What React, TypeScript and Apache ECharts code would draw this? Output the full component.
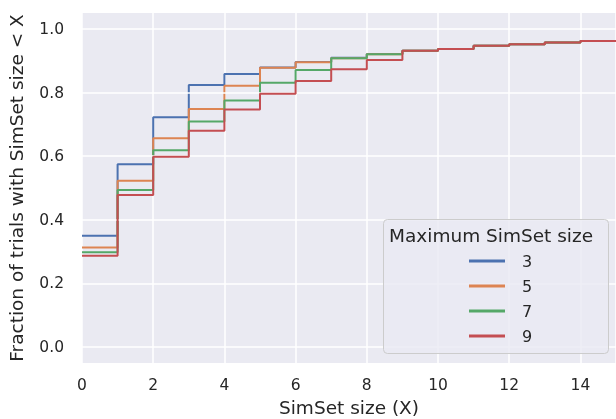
import React, { useEffect, useRef } from "react";
import * as echarts from "echarts";

const xSteps = [0, 1, 2, 3, 4, 5, 6, 7, 8, 9, 10, 11, 12, 13, 14, 15];
const seriesNames = ["3", "5", "7", "9"];
const colors = ["#4c72b0", "#dd8452", "#55a868", "#c44e52"];
const max3 = [0.350, 0.575, 0.722, 0.824, 0.858, 0.879, 0.896, 0.909, 0.921, 0.931, 0.937, 0.947, 0.952, 0.957, 0.962];
const max5 = [0.313, 0.523, 0.656, 0.748, 0.821, 0.878, 0.895, 0.908, 0.920, 0.931, 0.937, 0.947, 0.952, 0.957, 0.962];
const max7 = [0.298, 0.494, 0.619, 0.709, 0.775, 0.831, 0.871, 0.908, 0.920, 0.931, 0.937, 0.947, 0.952, 0.957, 0.962];
const max9 = [0.287, 0.478, 0.598, 0.680, 0.747, 0.796, 0.836, 0.873, 0.902, 0.931, 0.937, 0.947, 0.952, 0.957, 0.962];
const xTicks = [0, 2, 4, 6, 8, 10, 12, 14];
const yTicks = [0, 0.2, 0.4, 0.6, 0.8, 1.0];
const legendTitle = "Maximum SimSet size";

const FONT = "DejaVu Sans";
const TXT = "#262626";

function toPoints(vals: number[]) {
  return xSteps.map((x, i) => [x, vals[Math.min(i, vals.length - 1)]]);
}

export default function App() {
  const ref = useRef<HTMLDivElement>(null);
  useEffect(() => {
    if (!ref.current) return;
    const chart = echarts.init(ref.current, undefined, { renderer: "svg" });
    const all = [max3, max5, max7, max9];
    const option: any = {
      animation: false,
      textStyle: { fontFamily: FONT, color: TXT },
      grid: {
        left: 82,
        right: 0,
        top: 13,
        bottom: 56,
        show: true,
        backgroundColor: "#eaeaf2",
        borderWidth: 0,
        containLabel: false,
        outerBoundsMode: "none",
      },
      xAxis: {
        type: "value",
        min: 0,
        max: 15,
        interval: 2,
        name: "SimSet size (X)",
        nameLocation: "middle",
        nameGap: 35,
        nameTextStyle: { fontFamily: FONT, fontSize: 18.5, color: TXT },
        axisLine: { show: false },
        axisTick: { show: false },
        axisLabel: {
          fontFamily: FONT,
          fontSize: 15.5,
          color: TXT,
          margin: 14,
          customValues: xTicks,
        },
        splitLine: { show: true, lineStyle: { color: "#ffffff", width: 1.5 } },
      },
      yAxis: {
        type: "value",
        min: -0.05,
        max: 1.05,
        name: "Fraction of trials with SimSet size < X",
        nameLocation: "middle",
        nameGap: 56,
        nameTextStyle: { fontFamily: FONT, fontSize: 18.5, color: TXT },
        axisLine: { show: false },
        axisTick: { show: false },
        axisLabel: {
          fontFamily: FONT,
          fontSize: 15.5,
          color: TXT,
          margin: 18,
          customValues: yTicks,
          formatter: (v: number) => v.toFixed(1),
        },
        splitLine: { show: false },
      },
      legend: {
        orient: "vertical",
        left: 464,
        top: 248,
        itemWidth: 36,
        itemHeight: 3,
        itemGap: 9,
        icon: "rect",
        z: 20,
        data: seriesNames,
        textStyle: { fontFamily: FONT, fontSize: 16, color: TXT, padding: [0, 0, 0, 12], lineHeight: 16 },
      },
      graphic: [
        {
          type: "rect",
          left: 383,
          top: 219,
          shape: { width: 225, height: 134, r: 4 },
          style: { fill: "rgba(234,234,242,0.8)", stroke: "#cccccc", lineWidth: 1 },
          z: 10,
        },
        {
          type: "text",
          left: 389,
          top: 226,
          style: { text: legendTitle, font: `18.5px ${FONT}`, fill: TXT },
          z: 11,
        },
      ],
      series: [
        {
          type: "line",
          name: "__grid",
          data: [],
          silent: true,
          z: 1,
          markLine: {
            silent: true,
            symbol: "none",
            label: { show: false },
            lineStyle: { color: "#ffffff", width: 1.5, type: "solid" },
            data: yTicks.map((v) => ({ yAxis: v })),
          },
        },
        ...seriesNames.map((n, i) => ({
          type: "line",
          name: n,
          step: "end",
          data: toPoints(all[i]),
          showSymbol: false,
          symbol: "none",
          color: colors[i],
          lineStyle: { color: colors[i], width: 2 },
          z: 2 + i,
        })),
      ],
    };
    chart.setOption(option);
    return () => chart.dispose();
  }, []);
  return (
    <div
      ref={ref}
      style={{ position: "fixed", left: 0, top: 0, width: 616, height: 419 }}
    />
  );
}
